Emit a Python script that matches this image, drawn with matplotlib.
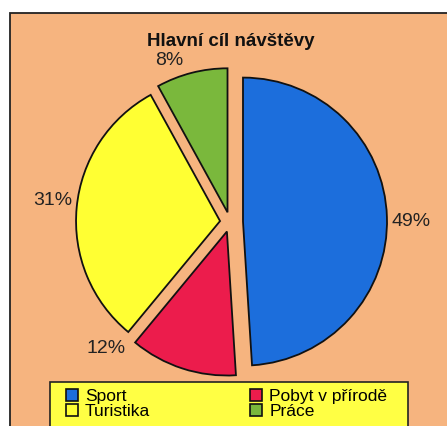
import numpy as np
import matplotlib
matplotlib.use('Agg')
import matplotlib.pyplot as plt
from matplotlib.patches import Rectangle, Patch

plt.rcParams['font.family'] = ['Liberation Sans', 'DejaVu Sans']

title = 'Hlavní cíl návštěvy'
categories = ['Sport', 'Pobyt v přírodě', 'Turistika', 'Práce']
shares = [49, 12, 31, 8]
colors = ['#1C6EDC', '#EC1C4C', '#FFFF33', '#7AB83C']
explode = [13, 10, 10, 10]   # pie() takes this in data units (px here)
# where each percent label sits (angle in deg, distance in radii from wedge centre)
lab_ang = [0, -136, 173, 111]
lab_dist = [1.17, 1.17, 1.17, 1.13]

W, H = 447, 426
fig = plt.figure(figsize=(W / 100, H / 100), dpi=100, facecolor='white')
ax = fig.add_axes([0, 0, 1, 1])

# chart area
ax.add_patch(Rectangle((10, -20), 480, H - 13 + 20, facecolor='#F6B47F',
                       edgecolor='#222222', lw=1.3, zorder=0))

R = 144
wedges, texts, autotexts = ax.pie(shares, colors=colors, explode=explode,
                                  startangle=90, counterclock=False,
                                  center=(230, H - 222), radius=R, frame=True,
                                  autopct=lambda p: '{:.0f}%'.format(p),
                                  wedgeprops=dict(edgecolor='#111111', lw=1.3),
                                  textprops=dict(fontsize=14, color='#222222'))
ax.set_xlim(0, W)
ax.set_ylim(0, H)
ax.set_aspect('equal')
ax.axis('off')

for w, t, a, d in zip(wedges, autotexts, lab_ang, lab_dist):
    cx, cy = w.center
    t.set_position((cx + d * R * np.cos(np.radians(a)),
                    cy + d * R * np.sin(np.radians(a))))
    t.set_ha('center')
    t.set_va('center')

ax.text(231, H - 42, title, ha='center', va='center', fontsize=13.5,
        fontweight='bold', color='#111111')

# legend box
ax.add_patch(Rectangle((50, -20), 358, H - 382 + 20, facecolor='#FFFF44',
                       edgecolor='#222222', lw=1.2, zorder=1))
order = [0, 2, 1, 3]
handles = [Patch(facecolor=colors[i], edgecolor='#111111', lw=1.2) for i in order]
ax.legend(handles, [categories[i] for i in order], ncol=2, frameon=False,
          loc='upper left', bbox_to_anchor=(66, H - 389), bbox_transform=ax.transData,
          fontsize=12.5, handlelength=0.7, handleheight=0.7, handletextpad=0.4,
          labelspacing=0.0, columnspacing=5.75, borderpad=0, borderaxespad=0)

fig.savefig('out.png', dpi=100, facecolor='white')
